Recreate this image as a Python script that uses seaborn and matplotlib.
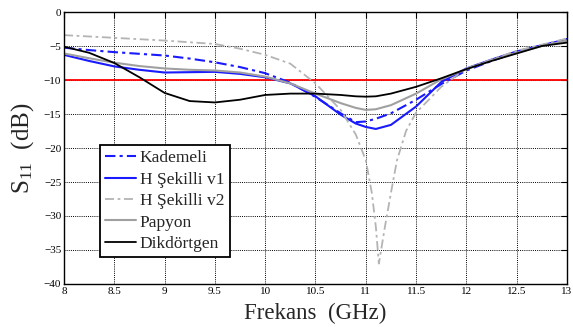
import numpy as np
import pandas as pd
import seaborn as sns
import matplotlib.pyplot as plt

# frequency grid (GHz) shared by most curves
freq = [8, 8.25, 8.5, 8.75, 9, 9.25, 9.5, 9.75, 10, 10.25, 10.5, 10.75,
        10.9, 11.0, 11.1, 11.25, 11.5, 11.75, 12, 12.25, 12.5, 12.75, 13]

kademeli = [-5.25, -5.6, -5.9, -6.15, -6.4, -6.85, -7.4, -8.1, -9.0, -10.4, -12.5, -14.9,
            -16.2, -16.1, -15.7, -14.9, -12.9, -10.6, -8.6, -7.2, -5.9, -4.9, -4.0]
h_v1 = [-6.3, -7.2, -8.0, -8.5, -8.9, -8.85, -8.8, -9.1, -9.6, -10.5, -12.4, -15.1,
        -16.4, -16.9, -17.2, -16.6, -13.9, -10.3, -8.3, -7.0, -5.8, -4.9, -4.0]
papyon = [-6.1, -6.8, -7.45, -7.95, -8.3, -8.5, -8.6, -8.9, -9.5, -10.5, -12.0, -13.4,
          -14.1, -14.4, -14.3, -13.7, -12.0, -9.9, -8.4, -7.1, -6.0, -5.0, -4.2]
dikdortgen = [-5.1, -6.0, -7.5, -9.6, -11.9, -13.1, -13.3, -12.9, -12.2, -12.0, -12.0, -12.2,
              -12.4, -12.45, -12.4, -12.0, -11.0, -9.75, -8.4, -7.2, -6.1, -5.0, -4.5]

# H Sekilli v2 has a sharp notch, read on its own grid
freq_v2 = [8, 8.5, 9, 9.5, 9.75, 10, 10.25, 10.5, 10.75, 10.9, 11.0, 11.06, 11.1, 11.13,
           11.19, 11.25, 11.31, 11.4, 11.5, 11.64, 11.75, 12, 12.5, 13]
h_v2 = [-3.4, -3.8, -4.2, -4.7, -5.4, -6.3, -7.6, -10.5, -14.4, -18.0, -21.8, -26.6, -31.6, -37.0,
        -31.6, -26.6, -21.8, -17.5, -14.8, -12.7, -11.0, -8.3, -5.7, -3.9]

x_ticks = [8, 8.5, 9, 9.5, 10, 10.5, 11, 11.5, 12, 12.5, 13]
x_labels = ['8', '8.5', '9', '9.5', '10', '10.5', '11', '11.5', '12', '12.5', '13']
y_ticks = [0, -5, -10, -15, -20, -25, -30, -35, -40]

sns.set_style("white")
plt.rcParams['font.family'] = ['Liberation Serif', 'DejaVu Serif']
plt.rcParams['mathtext.fontset'] = 'custom'
plt.rcParams['mathtext.rm'] = 'Liberation Serif'
plt.rcParams['mathtext.it'] = 'Liberation Serif'

fig = plt.figure(figsize=(5.73, 3.27), dpi=100)
ax = fig.add_axes([0.1117, 0.1315, 0.8778, 0.8318])

dashdot = (0, (5, 2, 1.5, 2))
sns.lineplot(x=freq, y=kademeli, ax=ax, color='#1a1aff', lw=1.5, linestyle=dashdot, label='Kademeli')
sns.lineplot(x=freq, y=h_v1, ax=ax, color='#1a1aff', lw=1.5, label='H Şekilli v1')
sns.lineplot(x=freq_v2, y=h_v2, ax=ax, color='#b4b4b4', lw=1.3, linestyle=dashdot, label='H Şekilli v2')
sns.lineplot(x=freq, y=papyon, ax=ax, color='#a0a0a0', lw=1.5, label='Papyon')
sns.lineplot(x=freq, y=dikdortgen, ax=ax, color='black', lw=1.3, label='Dikdörtgen')
ax.axhline(-10, color='red', lw=1.3, zorder=1)

ax.set_xlim(8, 13)
ax.set_ylim(-40, 0)
ax.set_xticks(x_ticks)
ax.set_xticklabels(x_labels)
ax.set_yticks(y_ticks)
ax.grid(True, color='black', linestyle=(0, (1, 1.2)), lw=0.7)
ax.tick_params(direction='in', top=True, right=True, length=4, width=0.8,
               labelsize=8, pad=2, colors='black')
for s in ax.spines.values():
    s.set_color('black')
    s.set_linewidth(1.0)

ax.set_xlabel('Frekans  (GHz)', fontsize=16.5, labelpad=5)
ax.set_ylabel('S$_{11}$  (dB)', fontsize=18, labelpad=6)

leg = ax.legend(loc='lower left', bbox_to_anchor=(0.0716, 0.099), borderaxespad=0,
                fontsize=12.5, handlelength=1.8, handletextpad=0.2, labelspacing=0.3,
                borderpad=0.3, fancybox=False, framealpha=1)
leg.get_frame().set_edgecolor('black')
leg.get_frame().set_linewidth(1.3)

fig.savefig('out.png', dpi=100)
